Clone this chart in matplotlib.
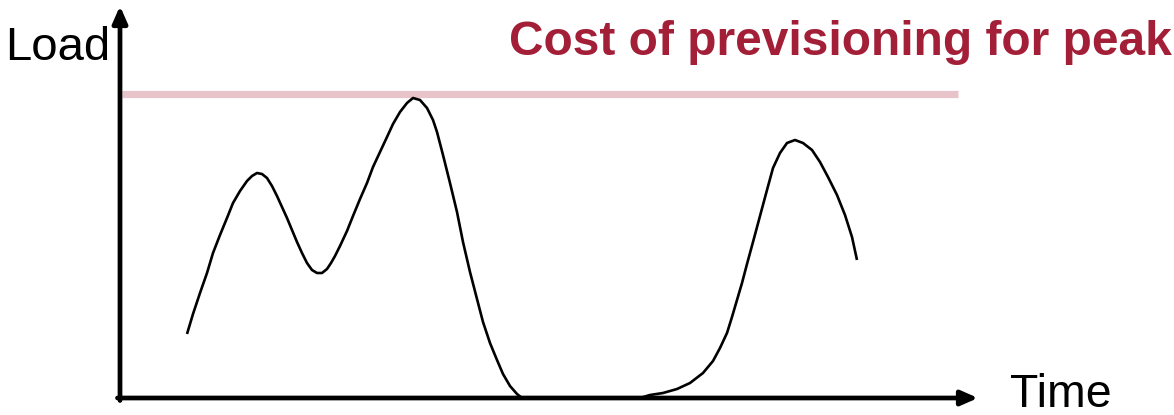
import matplotlib
matplotlib.use("Agg")
import matplotlib.pyplot as plt

plt.rcParams['font.family'] = ['Liberation Sans', 'DejaVu Sans']

# Load over time (arbitrary units)
time = [67, 73, 80, 87, 93, 100, 107, 113, 120, 127, 132, 137, 142, 147,
        152, 157, 162, 167, 172, 177, 182, 187, 192, 197, 202, 207, 211,
        215, 220, 227, 233, 240, 247, 253, 260, 267, 273, 280, 287, 293,
        300, 307, 313, 317, 323, 330, 337, 343, 350, 357, 363, 370, 377,
        383, 390, 397, 402, 440, 480, 520, 530, 543, 557, 570, 583, 593,
        600, 607, 612, 617, 622, 627, 633, 640, 647, 653, 660, 667, 675,
        683, 692, 700, 708, 717, 725, 732, 737]
load = [64, 84, 105, 125, 145, 163, 180, 195, 207, 217, 222, 225, 224, 220,
        212, 202, 191, 180, 168, 156, 145, 135, 128, 125, 125, 129, 135,
        142, 152, 167, 182, 199, 215, 231, 246, 261, 274, 286, 295, 300,
        298, 290, 278, 266, 243, 215, 186, 156, 126, 99, 76, 55, 38,
        24, 12, 4, 0, 0, 0, 0, 3, 5, 9, 15, 25, 37,
        50, 65, 81, 98, 115, 134, 156, 182, 208, 230, 245, 255, 258,
        255, 248, 236, 221, 203, 183, 161, 138]

# Provisioned capacity level and its span
peak_level = 304
peak_span = [2, 838]

title = "Cost of previsioning for peak"
x_label = "Time"
y_label = "Load"

fig = plt.figure(figsize=(11.74, 4.15), dpi=100)
ax = fig.add_axes([0, 0, 1, 1])
ax.set_xlim(-120, 1054)
ax.set_ylim(-17, 398)
ax.axis('off')

# Provisioned capacity line
ax.plot(peak_span, [peak_level, peak_level], color='#E8C4CA', lw=5.2,
        solid_capstyle='butt', zorder=1)

# Load curve
ax.plot(time, load, color='black', lw=1.9, solid_joinstyle='round',
        solid_capstyle='butt', zorder=2)

# Axes with arrow heads
arrow = dict(arrowstyle='-|>,head_length=0.5,head_width=0.22', lw=3.4,
             color='black', shrinkA=0, shrinkB=0, mutation_scale=20)
ax.annotate('', xy=(0, 392), xytext=(0, -2.5), arrowprops=arrow, zorder=3)
ax.annotate('', xy=(858, 0), xytext=(-2.5, 0), arrowprops=arrow, zorder=3)

ax.text(-115, 338, y_label, fontsize=34, ha='left', va='baseline')
ax.text(890, -9, x_label, fontsize=33.5, ha='left', va='baseline')
ax.text(1052, 343, title, fontsize=34.5, fontweight='bold', color='#A31F37',
        ha='right', va='baseline')

fig.savefig('out.png', dpi=100)
